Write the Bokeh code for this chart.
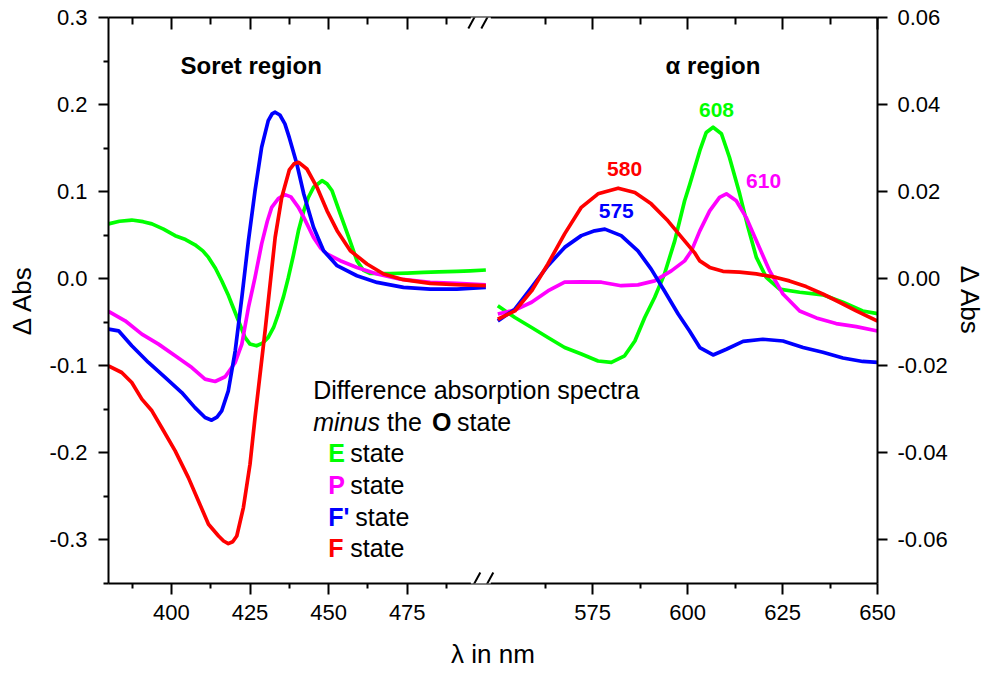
from bokeh.plotting import figure
from bokeh.models import (Range1d, LinearAxis, FixedTicker, PrintfTickFormatter,
                          CustomJSTickFormatter, CustomJSTransform, ColumnDataSource,
                          Label, BoxAnnotation, PolyAnnotation)
from bokeh.transform import transform
from bokeh.embed import file_html
from bokeh.resources import INLINE

# ---------------- data (wavelength in nm, Delta Abs) ----------------
# Soret region (left axis)
soret_E_nm = [380, 383.5, 387.4, 391, 393.8, 397.5, 401.2, 404.5, 407.5, 410,
              411.8, 414, 416, 418, 419.2, 421.3, 423.4, 425, 427.1, 429,
              430.8, 432.5, 434, 435.7, 437.2, 438.8, 440.4, 442.1, 443.5, 445.2,
              447.9, 449.5, 451.1, 453.7, 456.4, 459, 461, 463.3, 469.6, 475,
              480.2, 485, 490.8, 495, 500]
soret_E = [0.063, 0.066, 0.0674, 0.0655, 0.063, 0.057, 0.0494, 0.045, 0.039, 0.032,
           0.0245, 0.012, -0.0023, -0.018, -0.029, -0.048, -0.0674, -0.075, -0.077, -0.074,
           -0.0674, -0.056, -0.0406, -0.02, 0.0015, 0.027, 0.055, 0.078, 0.093, 0.105,
           0.1126, 0.109, 0.101, 0.0744, 0.0475, 0.0207, 0.01, 0.006, 0.006, 0.0065,
           0.0073, 0.0078, 0.0084, 0.009, 0.01]

soret_P_nm = [380, 385.3, 390.6, 395.9, 401.2, 406.5, 410.7, 413.9, 417.1, 420.3,
              422.4, 424.5, 426.6, 428.7, 430.5, 431.9, 434, 436.1, 438, 440.4,
              442.1, 445.2, 447.5, 449.5, 453.7, 459, 465.4, 472.8, 482.3, 490.8,
              500]
soret_P = [-0.0375, -0.0483, -0.0636, -0.0751, -0.0885, -0.102, -0.1153, -0.118, -0.1126, -0.0962,
           -0.0751, -0.033, 0.0015, 0.04, 0.066, 0.082, 0.092, 0.0966, 0.094, 0.082,
           0.0705, 0.0475, 0.035, 0.0284, 0.0207, 0.013, 0.0054, -0.0004, -0.0042, -0.0054,
           -0.0069]

soret_Fp_nm = [380, 383.2, 387.4, 392.7, 398, 403.3, 407.5, 410.7, 412.8, 414.5,
               416, 418.1, 420.3, 422.4, 424.5, 426.6, 428.7, 430.8, 432, 433,
               434.5, 436.1, 437.5, 439.9, 442.1, 445.2, 448.4, 452.7, 459, 465.4,
               473.8, 482.3, 490.8, 500]
soret_Fp = [-0.0579, -0.0598, -0.077, -0.0962, -0.1134, -0.1307, -0.148, -0.1594, -0.1625, -0.159,
            -0.1517, -0.1287, -0.0828, -0.0215, 0.0437, 0.1011, 0.151, 0.1816, 0.1892, 0.1912,
            0.188, 0.1778, 0.162, 0.1318, 0.0973, 0.059, 0.0322, 0.015, 0.0034, -0.0042,
            -0.01, -0.0119, -0.0119, -0.01]

soret_F_nm = [380, 384.2, 387.4, 390.6, 393.8, 396.9, 401.2, 405.4, 408.6, 411.8,
              415, 416.6, 418.1, 419.5, 420.8, 422.9, 425, 426.6, 428.2, 429.8,
              431.4, 433, 435.1, 437.5, 439, 440.5, 443.1, 446.3, 449.5, 452.7,
              456.9, 462.2, 467.5, 473.8, 482.3, 490.8, 500]
soret_F = [-0.1, -0.1077, -0.1192, -0.1383, -0.1517, -0.1709, -0.1977, -0.2284, -0.2552, -0.282,
           -0.2954, -0.3012, -0.3042, -0.302, -0.2954, -0.2628, -0.213, -0.1594, -0.1096, -0.0598,
           -0.0061, 0.0475, 0.0935, 0.125, 0.132, 0.1337, 0.126, 0.105, 0.078, 0.0552,
           0.0322, 0.0169, 0.0054, -0.0011, -0.0054, -0.0069, -0.008]

# alpha region (right axis)
alpha_E_nm = [550, 554.5, 558.9, 563.2, 567.6, 572, 576.4, 579.9, 583.4, 586.1,
              588.7, 591.3, 593.9, 596.6, 599.2, 600.5, 603.2, 604.9, 606.7, 608.9,
              611, 613.7, 615.9, 618.1, 620.7, 624.2, 629.5, 635.6, 640.9, 646.1,
              650]
alpha_E = [-0.0062, -0.0089, -0.0112, -0.0135, -0.0158, -0.0173, -0.0189, -0.0192, -0.0177, -0.0143,
           -0.0089, -0.0043, 0.0011, 0.0087, 0.0179, 0.0215, 0.0294, 0.0336, 0.0348, 0.0333,
           0.0279, 0.0195, 0.0118, 0.0049, 0.0003, -0.0024, -0.0031, -0.0037, -0.0054, -0.0074,
           -0.008]

alpha_P_nm = [550, 554.5, 558.9, 563.2, 567.6, 572, 577.3, 582.5, 586.9, 591.3,
              595.7, 599.2, 601, 603.2, 605.8, 608.4, 610.2, 612.8, 615.4, 618.1,
              621.6, 625.1, 629.5, 633.9, 639.1, 644.4, 650]
alpha_P = [-0.0081, -0.0072, -0.0054, -0.0028, -0.0008, -0.0007, -0.0008, -0.0016, -0.0014, -0.0005,
           0.0018, 0.0041, 0.0064, 0.011, 0.0156, 0.0187, 0.0195, 0.0179, 0.0141, 0.0087,
           0.0018, -0.0035, -0.0074, -0.009, -0.0103, -0.011, -0.012]

alpha_Fp_nm = [550, 554.5, 558.9, 563.2, 567.6, 572, 575.5, 578.2, 582.5, 586.9,
               590.4, 593.9, 597.5, 600.5, 603.2, 606.7, 610.2, 614.6, 619.8, 625.1,
               630.4, 635.6, 640.9, 646.1, 650]
alpha_Fp = [-0.0097, -0.007, -0.002, 0.003, 0.0072, 0.0099, 0.011, 0.0114, 0.0099, 0.0064,
            0.0022, -0.0028, -0.0081, -0.012, -0.0158, -0.0175, -0.0162, -0.0144, -0.0139, -0.0143,
            -0.0158, -0.0169, -0.0182, -0.019, -0.0192]

alpha_F_nm = [550, 554.5, 558.9, 563.2, 567.6, 572, 576.4, 581.7, 586.1, 590.4,
              594.8, 599.2, 601.8, 603.2, 605.8, 609.3, 613.7, 618.1, 623.3, 626.8,
              631.2, 635.6, 640, 644.4, 650]
alpha_F = [-0.0093, -0.0074, -0.0028, 0.0034, 0.0103, 0.0164, 0.0195, 0.0208, 0.0198, 0.0172,
           0.0133, 0.0087, 0.006, 0.0041, 0.0026, 0.0017, 0.0015, 0.0011, 0.0003, -0.0005,
           -0.0018, -0.0035, -0.0054, -0.0074, -0.0097]

series_names = ["E", "P", "F'", "F"]
series_colors = ["#00FF00", "#FF00FF", "#0000FF", "#FF0000"]

x_major_ticks = [400, 425, 450, 475, 575, 600, 625, 650]
x_minor_ticks = [387.5, 412.5, 437.5, 462.5, 487.5, 562.5, 587.5, 612.5, 637.5]
yl_ticks = [-0.3, -0.2, -0.1, 0.0, 0.1, 0.2, 0.3]
yl_minor_ticks = [-0.35, -0.25, -0.15, -0.05, 0.05, 0.15, 0.25]
yr_ticks = [-0.06, -0.04, -0.02, 0.0, 0.02, 0.04, 0.06]

peak_texts = ["608", "610", "580", "575"]
peak_colors = ["#00FF00", "#FF00FF", "#FF0000", "#0000FF"]

# ---------------- broken x axis ----------------
LO_START, LO_END = 380.0, 500.0
HI_START, HI_END = 550.0, 650.0
GAP = 3.8          # width of the break, in left-segment units
K = 1.2075         # right segment is drawn wider per nm


def brk(nm):
    return nm if nm <= LO_END else LO_END + GAP + (nm - HI_START) * K


brk_js = CustomJSTransform(
    args=dict(lo_end=LO_END, hi_start=HI_START, gap=GAP, k=K),
    v_func="""
    const out = new Array(xs.length);
    for (let i = 0; i < xs.length; i++) {
      const v = xs[i];
      out[i] = v <= lo_end ? v : lo_end + gap + (v - hi_start) * k;
    }
    return out;
    """)

x_fmt = CustomJSTickFormatter(
    args=dict(lo_end=LO_END, hi_start=HI_START, gap=GAP, k=K),
    code="""
    const v = tick <= lo_end + gap / 2 ? tick : hi_start + (tick - lo_end - gap) / k;
    return Math.round(v).toString();
    """)

FONT = "Liberation Sans"

p = figure(width=987, height=674,
           x_range=Range1d(LO_START, brk(HI_END)),
           y_range=Range1d(-0.35, 0.3),
           x_axis_type=None, y_axis_type=None,
           output_backend="svg", toolbar_location=None,
           min_border_left=108, min_border_right=109,
           min_border_top=17, min_border_bottom=91)
p.extra_y_ranges = {"right": Range1d(-0.07, 0.06)}
p.outline_line_color = None
p.background_fill_color = "white"
p.border_fill_color = "white"


def style_axis(ax, out_, in_, mout, min_):
    ax.axis_line_color = "black"
    ax.axis_line_width = 2
    ax.major_tick_line_color = "black"
    ax.major_tick_line_width = 2
    ax.minor_tick_line_color = "black"
    ax.minor_tick_line_width = 2
    ax.major_tick_out = out_
    ax.major_tick_in = in_
    ax.minor_tick_out = mout
    ax.minor_tick_in = min_
    ax.major_label_text_font = FONT
    ax.major_label_text_font_size = "22px"
    ax.major_label_text_color = "black"
    ax.axis_label_text_font = FONT
    ax.axis_label_text_font_size = "26px"
    ax.axis_label_text_font_style = "normal"
    ax.axis_label_text_color = "black"


xb = LinearAxis(ticker=FixedTicker(ticks=[brk(t) for t in x_major_ticks],
                                   minor_ticks=[brk(t) for t in x_minor_ticks]),
                formatter=x_fmt, axis_label="λ in nm")
style_axis(xb, 11, 0, 5, 0)
xb.major_label_standoff = 10
xb.axis_label_standoff = 16
p.add_layout(xb, "below")

xt = LinearAxis(ticker=FixedTicker(ticks=[brk(t) for t in x_major_ticks],
                                   minor_ticks=[brk(t) for t in x_minor_ticks]),
                formatter=CustomJSTickFormatter(code="return '';"))
style_axis(xt, 0, 12, 0, 7)
xt.major_label_standoff = 0
p.add_layout(xt, "above")

yl = LinearAxis(ticker=FixedTicker(ticks=yl_ticks, minor_ticks=yl_minor_ticks),
                formatter=PrintfTickFormatter(format="%.1f"), axis_label="Δ Abs")
style_axis(yl, 10, 0, 5, 0)
yl.major_label_standoff = 11
yl.axis_label_standoff = 10
p.add_layout(yl, "left")

yr = LinearAxis(y_range_name="right",
                ticker=FixedTicker(ticks=yr_ticks, minor_ticks=[]),
                formatter=PrintfTickFormatter(format="%.2f"), axis_label="Δ Abs")
style_axis(yr, 10, 0, 0, 0)
yr.major_label_standoff = 10
yr.axis_label_standoff = 4
p.add_layout(yr, "right")

# ---------------- curves ----------------
soret = [(soret_E_nm, soret_E), (soret_P_nm, soret_P), (soret_Fp_nm, soret_Fp), (soret_F_nm, soret_F)]
alpha = [(alpha_E_nm, alpha_E), (alpha_P_nm, alpha_P), (alpha_Fp_nm, alpha_Fp), (alpha_F_nm, alpha_F)]
for (nm, dA), color in zip(soret, series_colors):
    src = ColumnDataSource(dict(nm=nm, dA=dA))
    p.line(x=transform("nm", brk_js), y="dA", source=src, line_color=color, line_width=3.7,
           line_join="round")
for (nm, dA), color in zip(alpha, series_colors):
    src = ColumnDataSource(dict(nm=nm, dA=dA))
    p.line(x=transform("nm", brk_js), y="dA", source=src, line_color=color, line_width=3.7,
           line_join="round", y_range_name="right")

# ---------------- axis break marks ----------------
brk_c = brk(LO_END) - GAP / 2 + 0.3   # centre of the break
px_u = 1 / 3.1486                     # one pixel in x units
px_y = 0.65 / 566                     # one pixel in left-y units
for y0 in (0.3, -0.35):
    p.add_layout(BoxAnnotation(left=brk_c - 10 * px_u, right=brk_c + 10 * px_u,
                               bottom=y0 - 3 * px_y, top=y0 + 3 * px_y,
                               fill_color="white", fill_alpha=1.0,
                               line_color=None, level="annotation"))
    for dx in (-6.5, 6.5):
        cx = brk_c + dx * px_u
        p.add_layout(PolyAnnotation(xs=[cx - 6 * px_u, cx + 6 * px_u],
                                    ys=[y0 - 11 * px_y, y0 + 11 * px_y],
                                    fill_color=None, fill_alpha=0.0,
                                    line_color="black", line_alpha=1.0, line_width=2,
                                    level="annotation"))

# ---------------- texts ----------------
def lab(x, y, text, size="25px", style="normal", color="black", align="left"):
    p.add_layout(Label(x=x, y=y, text=text, text_font=FONT, text_font_size=size,
                       text_font_style=style, text_color=color,
                       text_align=align, text_baseline="middle"))


lab(402.9, 0.245, "Soret region", size="24px", style="bold")
lab(brk(594.2), 0.245, "α region", size="24px", style="bold")

peak_pos = [(607.6, 0.194), (620.0, 0.1126), (583.4, 0.1259), (581.2, 0.0776)]
for t, c, (xn, yv) in zip(peak_texts, peak_colors, peak_pos):
    lab(brk(xn), yv, t, size="21px", style="bold", color=c, align="center")

lab(445.1, -0.1276, "Difference absorption spectra")
lab(445.1, -0.1644, "minus", style="italic")
lab(468.6, -0.1644, "the")
lab(482.9, -0.1644, "O", style="bold")
lab(490.85, -0.1644, "state")
leg_y = [-0.2006, -0.2368, -0.2736, -0.3098]
for name, color, yv in zip(series_names, series_colors, leg_y):
    lab(449.87, yv, name, style="bold", color=color)
    lab(449.87 + (8.6 if name == "F'" else 7.0), yv, "state")

open("out.html", "w").write(file_html(p, INLINE))
